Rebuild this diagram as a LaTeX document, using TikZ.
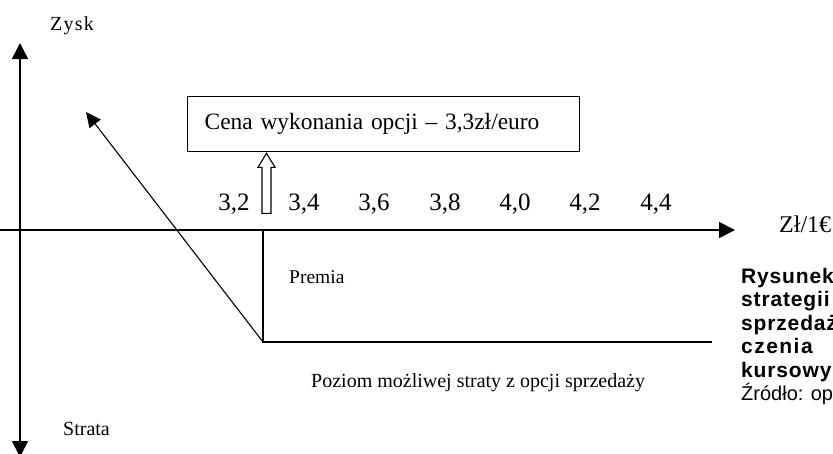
\documentclass[tikz,border=0pt]{standalone}
\usepackage{fontspec}
\setmainfont{Liberation Serif}
\newfontfamily\arialfont{Liberation Sans}
\newfontfamily\arialspaced[LetterSpace=4]{Liberation Sans}
\newfontfamily\timesspaced[LetterSpace=6]{Liberation Serif}
\usetikzlibrary{arrows.meta}

\begin{document}
\begin{tikzpicture}[%
  x=1pt,
  y=-1pt,
  >={Triangle[length=16pt,width=16pt]},
  os/.style={line width=1.6pt},
  wykres/.style={line width=1.1pt},
  kurs/.style={font=\fontsize{25}{29}\selectfont, anchor=base, inner sep=0pt},
  opis/.style={font=\fontsize{20}{24}\selectfont, anchor=base west, inner sep=0pt},
  podpis/.style={font=\arialspaced\bfseries\fontsize{21}{23}\selectfont, anchor=base west, inner sep=0pt}
  ]
  \useasboundingbox (0,0) rectangle (833,453);
  \clip (0,0) rectangle (833,453);
  %% Coordinates
  \coordinate (O) at (20,230);
  \coordinate (Ygora) at (20,43);
  \coordinate (Ydol) at (20,457);
  \coordinate (Xlewo) at (0,230);
  \coordinate (Xprawo) at (735,230);
  \coordinate (P) at (263,230);
  \coordinate (K) at (263,342);
  \coordinate (Kkoniec) at (712,342);
  \coordinate (Wzrost) at (86,112);
  %% Axes
  \draw[os,->] (O) -- (Ygora);
  \draw[os,->] (O) -- (Ydol);
  \draw[os,->] (Xlewo) -- (Xprawo);
  %% Nodes
  \node[opis, font=\timesspaced\fontsize{20}{24}\selectfont] (zysk) at (50,30) {Zysk};
  \node[opis] (strata) at (63,435) {Strata};
  \node[opis, font=\fontsize{24}{28}\selectfont] (kurs) at (779,232) {Zł/1€};
  \node[opis, font=\fontsize{19.5}{24}\selectfont] (premia) at (289,283) {Premia};
  \node[opis] (poziom) at (311,387) {Poziom możliwej straty z opcji sprzedaży};
  \node[draw, line width=1.3pt, anchor=north west, minimum height=55pt,
        text width=358pt, inner xsep=17pt, align=left,
        font=\fontsize{23.4}{28}\selectfont] (cena) at (187,96)
        {Cena wykonania opcji – 3,3zł/euro};
  %% Ticks
  \node[kurs] (k32) at (234,210) {3,2};
  \node[kurs] (k34) at (304,210) {3,4};
  \node[kurs] (k36) at (374,210) {3,6};
  \node[kurs] (k38) at (445,210) {3,8};
  \node[kurs] (k40) at (515,210) {4,0};
  \node[kurs] (k42) at (585,210) {4,2};
  \node[kurs] (k44) at (656,210) {4,4};
  %% Caption
  \node[podpis] (rys1) at (741,283) {Rysunek};
  \node[podpis] (rys2) at (741,306) {strategii};
  \node[podpis] (rys3) at (741,330) {sprzedaż};
  \node[podpis, font=\arialfont\bfseries\addfontfeatures{LetterSpace=7}\fontsize{21}{23}\selectfont] (rys4) at (741,353) {czenia};
  \node[podpis] (rys5) at (741,377) {kursowy};
  \node[opis, font=\arialfont\fontsize{20}{23}\selectfont] (zrodlo) at (741,400) {Źródło: op};
  %% Payoff
  \draw[wykres] (P) -- (K) -- (Kkoniec);
  \draw[wykres, -{Triangle[length=15pt,width=14pt]}] (K) -- (Wzrost);
  %% Hollow arrow
  \coordinate (strzalka) at ([xshift=79.5pt,yshift=-1pt]cena.south west);
  \draw[line width=1.1pt, fill=white] (strzalka) -- ++(8.5,14) -- ++(-4,0)
    -- ++(0,46) -- ++(-9,0) -- ++(0,-46) -- ++(-4,0) -- cycle;
\end{tikzpicture}
\end{document}
